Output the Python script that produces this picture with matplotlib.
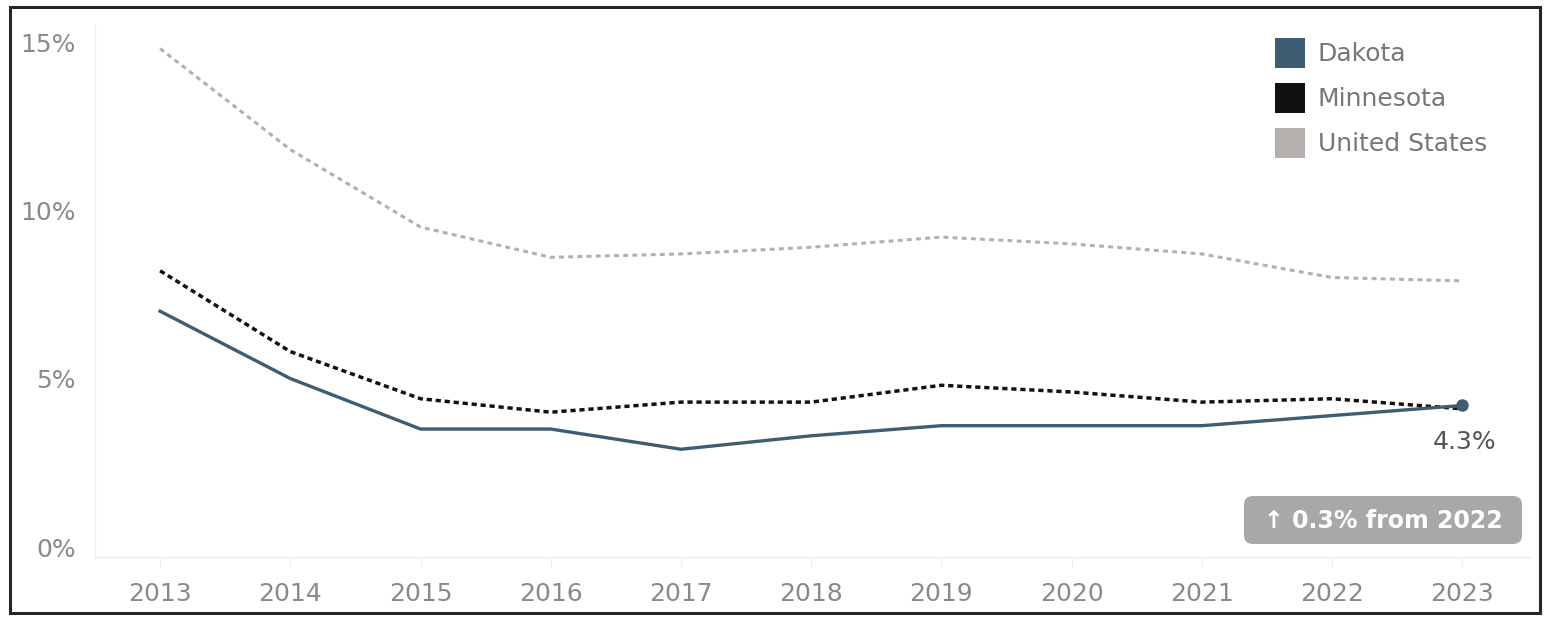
import matplotlib.pyplot as plt
import matplotlib.transforms as mtransforms
from matplotlib.patches import Rectangle, FancyBboxPatch

# data (in %)
years = [2013, 2014, 2015, 2016, 2017, 2018, 2019, 2020, 2021, 2022, 2023]
dakota = [7.1, 5.1, 3.6, 3.6, 3.0, 3.4, 3.7, 3.7, 3.7, 4.0, 4.3]
minnesota = [8.3, 5.9, 4.5, 4.1, 4.4, 4.4, 4.9, 4.7, 4.4, 4.5, 4.2]
united_states = [14.9, 11.9, 9.6, 8.7, 8.8, 9.0, 9.3, 9.1, 8.8, 8.1, 8.0]
y_ticks = [0, 5, 10, 15]
series_names = ["Dakota", "Minnesota", "United States"]

DAKOTA_COLOR = "#3e5d72"
MN_COLOR = "#111111"
US_COLOR = "#b5b0ae"
TEXT_GRAY = "#8a8a8a"

plt.rcParams['font.family'] = ['DejaVu Sans']

W, H = 1547, 620
fig = plt.figure(figsize=(W / 100, H / 100), dpi=100)

# overlay in pixel units for frame, legend and badge
over = fig.add_axes([0, 0, 1, 1], zorder=5)
over.set_xlim(0, W)
over.set_ylim(H, 0)
over.axis("off")
over.patch.set_alpha(0)

# main axes: left 95, right 1530, top 25, bottom 557 (pixels)
ax = fig.add_axes([95 / W, (H - 557) / H, (1530 - 95) / W, (557 - 25) / H])

ax.plot(years, united_states, color=US_COLOR, linewidth=2.2,
        linestyle=(0, (1.6, 1.4)))
ax.plot(years, minnesota, color=MN_COLOR, linewidth=2.5,
        linestyle=(0, (1.5, 1.1)))
ax.plot(years, dakota, color=DAKOTA_COLOR, linewidth=2.4)
ax.plot(years[-1], dakota[-1], "o", color=DAKOTA_COLOR, markersize=8)

ax.annotate(f"{dakota[-1]:.1f}%", (years[-1], dakota[-1]), xytext=(-21, -18),
            textcoords="offset points", ha="left", va="top",
            fontsize=18, color="#555555")

ax.set_xlim(2012.5, 2023.52)
ax.set_ylim(-0.2, 15.6)
ax.set_xticks(years)
ax.set_xticklabels([str(y) for y in years], fontsize=18, color=TEXT_GRAY)
ax.set_yticks(y_ticks)
ax.set_yticklabels([f"{t}%" for t in y_ticks], fontsize=18, color=TEXT_GRAY)
ax.tick_params(axis="x", length=8, color="#eeeeee", pad=10)
ax.tick_params(axis="y", length=0, pad=14)
# nudge y labels up a little, like the reference
shift = mtransforms.ScaledTranslation(0, 3 / 100, fig.dpi_scale_trans)
for lab in ax.get_yticklabels():
    lab.set_transform(lab.get_transform() + shift)
for side in ["top", "right"]:
    ax.spines[side].set_visible(False)
for side in ["left", "bottom"]:
    ax.spines[side].set_color("#efefef")
    ax.spines[side].set_linewidth(1)

# legend: squares + text
leg_colors = [DAKOTA_COLOR, MN_COLOR, US_COLOR]
for i, (name, col) in enumerate(zip(series_names, leg_colors)):
    ytop = 38 + i * 45
    over.add_patch(Rectangle((1275, ytop), 30, 30, facecolor=col, edgecolor="none"))
    over.text(1318, ytop + 16, name, fontsize=18, color="#777777",
              va="center", ha="left")

# change badge
over.add_patch(FancyBboxPatch((1244, 496), 278, 48,
                              boxstyle="round,pad=0,rounding_size=9",
                              facecolor="#a8a8a8", edgecolor="none"))
over.text(1383, 521, "\u2191 0.3% from 2022", fontsize=17,
          fontweight="bold", color="white", ha="center", va="center")

# outer frame
over.add_patch(Rectangle((10, 7), 1530, 606, facecolor="none",
                         edgecolor="#262626", linewidth=2.2))

fig.savefig("out.png", dpi=100)
